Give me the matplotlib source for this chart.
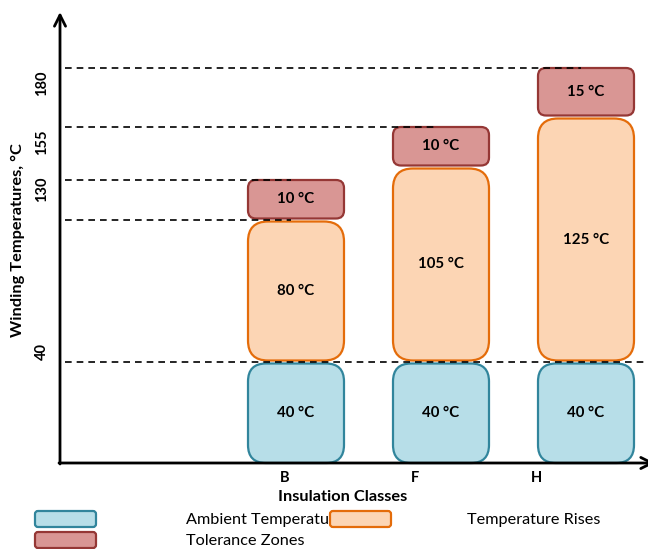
import numpy as np
import matplotlib
matplotlib.use("Agg")
import matplotlib.pyplot as plt
from matplotlib.patches import FancyBboxPatch

plt.rcParams['font.family'] = ['Lato', 'DejaVu Sans']

# --- datos ---
classes = ["B", "F", "H"]
ambient = [40, 40, 40]
rises = [80, 105, 125]
tolerance = [10, 10, 15]
ytick_values = [40, 130, 155, 180]
# niveles con linea de guia y la columna donde termina (None = todo el ancho)
guide_levels = [40, 120, 130, 155, 180]
guide_cols = [None, 0, 0, 1, 2]

# --- esquema (no a escala): temperatura -> coordenada vertical en pixeles ---
temp_knots = [0, 40, 120, 130, 145, 155, 165, 180]
pix_knots = [463, 362, 220, 180, 167, 127, 117, 68]


def ypos(t):
    return float(np.interp(t, temp_knots, pix_knots))


x0_axis, y0_axis = 60, 463
col_center = lambda i: 296 + 145 * i
col_w = 96
gap = 1.5

amb_style = dict(fc="#b7dee8", ec="#31859c")
rise_style = dict(fc="#fcd5b4", ec="#e46c0a")
tol_style = dict(fc="#d99694", ec="#953735")

fig = plt.figure(figsize=(6.48, 5.49), dpi=100)
ax = fig.add_axes([0, 0, 1, 1])
ax.set_xlim(0, 648)
ax.set_ylim(549, 0)
ax.set_axis_off()


def box(x, top, bottom, style, r, ax=ax):
    p = FancyBboxPatch((x, top), col_w, bottom - top,
                       boxstyle=f"round,pad=0,rounding_size={r}",
                       lw=1.6, zorder=2, **style)
    ax.add_patch(p)


for i, c in enumerate(classes):
    xl = col_center(i) - col_w / 2
    a, r, t = ambient[i], rises[i], tolerance[i]
    # temperatura ambiente
    b0, b1 = ypos(0), ypos(a) + gap
    box(xl, b1, b0, amb_style, 18)
    ax.text(col_center(i), (b0 + b1) / 2, f"{a} °C", ha="center", va="center",
            fontsize=10.8, fontweight="bold", zorder=4)
    # elevacion de temperatura
    b0, b1 = ypos(a) - gap, ypos(a + r) + gap
    box(xl, b1, b0, rise_style, 20)
    ax.text(col_center(i), (b0 + b1) / 2, f"{r} °C", ha="center", va="center",
            fontsize=10.8, fontweight="bold", zorder=4)
    # zona de tolerancia
    b0, b1 = ypos(a + r) - gap, ypos(a + r + t)
    box(xl, b1, b0, tol_style, 8)
    ax.text(col_center(i), (b0 + b1) / 2, f"{t} °C", ha="center", va="center",
            fontsize=10.8, fontweight="bold", zorder=4)

# lineas de guia discontinuas
for lvl, ci in zip(guide_levels, guide_cols):
    xe = 648 if ci is None else col_center(ci) - 5
    ax.plot([x0_axis + 5, xe], [ypos(lvl)] * 2, ls=(0, (4, 3)), color="black",
            lw=1.2, zorder=3)

# ejes con flechas
arrow = dict(arrowstyle="->", lw=2, color="black", mutation_scale=20,
             shrinkA=0, shrinkB=0)
ax.annotate("", xy=(x0_axis, 12), xytext=(x0_axis, y0_axis + 1),
            arrowprops=arrow, zorder=5, annotation_clip=False)
ax.annotate("", xy=(655, y0_axis), xytext=(x0_axis - 1, y0_axis),
            arrowprops=arrow, zorder=5, annotation_clip=False)

# etiquetas del eje y (desplazadas respecto a las lineas)
ytick_offsets = [-10, 9, 15, 15]
for v, off in zip(ytick_values, ytick_offsets):
    ax.text(42, ypos(v) + off, str(v), rotation=90, ha="center", va="center",
            fontsize=10.5, fontweight="bold")
ax.text(18, 240, "Winding Temperatures, °C", rotation=90, ha="center",
        va="center", fontsize=11.8, fontweight="bold")

# etiquetas del eje x
class_label_x = [285, 415, 536]
for c, xl in zip(classes, class_label_x):
    ax.text(xl, 478, c, ha="center", va="center", fontsize=10.5,
            fontweight="bold")
ax.text(343, 497, "Insulation Classes", ha="center", va="center",
        fontsize=11.8, fontweight="bold")

# leyenda
def swatch(x, y, style):
    p = FancyBboxPatch((x, y), 61, 16, boxstyle="round,pad=0,rounding_size=3",
                       lw=1.6, zorder=6, **style)
    ax.add_patch(p)


swatch(35, 511, amb_style)
ax.text(186, 520, "Ambient Temperature", ha="left", va="center",
        fontsize=11.7, zorder=5)
swatch(330, 511, rise_style)
ax.text(467, 520, "Temperature Rises", ha="left", va="center", fontsize=11.7)
swatch(35, 532, tol_style)
ax.text(186, 541, "Tolerance Zones", ha="left", va="center", fontsize=11.7)

fig.savefig("out.png", dpi=100)
